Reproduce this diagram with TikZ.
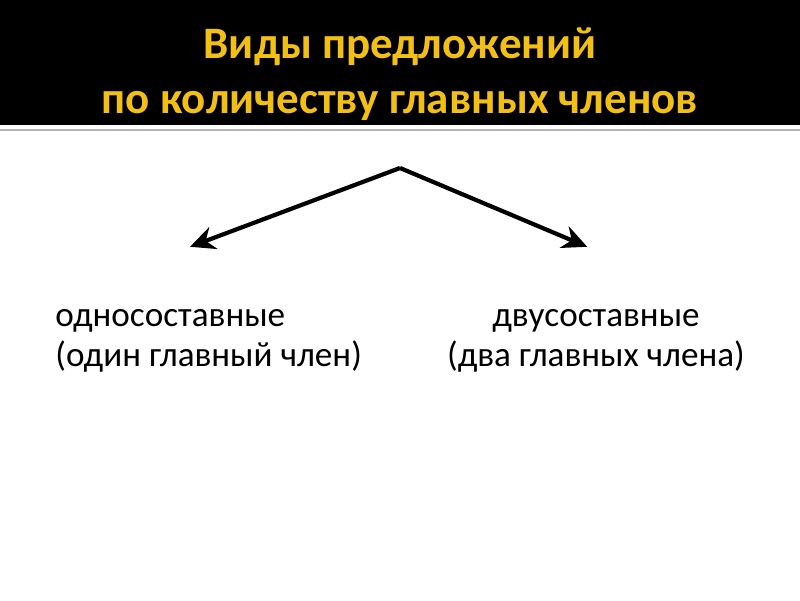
\documentclass[tikz,border=0pt]{standalone}
\usepackage{fontspec}
\setmainfont{Carlito}
\usetikzlibrary{arrows.meta,positioning}
\definecolor{titleyellow}{RGB}{242,192,20}
\definecolor{rulegray}{RGB}{180,180,180}

\begin{document}
\begin{tikzpicture}[
    titletext/.style={text=titleyellow, font=\fontsize{32}{39}\selectfont\bfseries, align=center},
    kindtext/.style={font=\fontsize{25}{29}\selectfont, inner sep=0pt},
    arrow/.style={-{Stealth[length=0.62cm, width=0.58cm, inset=0.2cm]}, line width=3pt, black}
]
\useasboundingbox (0,0) rectangle (20,15);
% Header band
\fill[black] (0,11.875) rectangle (20,15);
\draw[rulegray, line width=1.2pt] (0,11.75) -- (20,11.75);
\node[titletext] (title) at (10,13.15) {Виды предложений\\по количеству главных членов};

% Kinds of sentences
\node[kindtext, align=left, anchor=north west] (one) at (1.38,7.28) {односоставные\\(один главный член)};
\node[kindtext, align=center, anchor=north] (two) at (14.9,7.28) {двусоставные\\(два главных члена)};

% Arrows
\coordinate (apex) at (10,10.8);
\coordinate (lefttip) at (4.75,8.83);
\coordinate (righttip) at (14.68,8.83);
\draw[arrow] (apex) -- (lefttip);
\draw[arrow] (apex) -- (righttip);
\end{tikzpicture}
\end{document}
